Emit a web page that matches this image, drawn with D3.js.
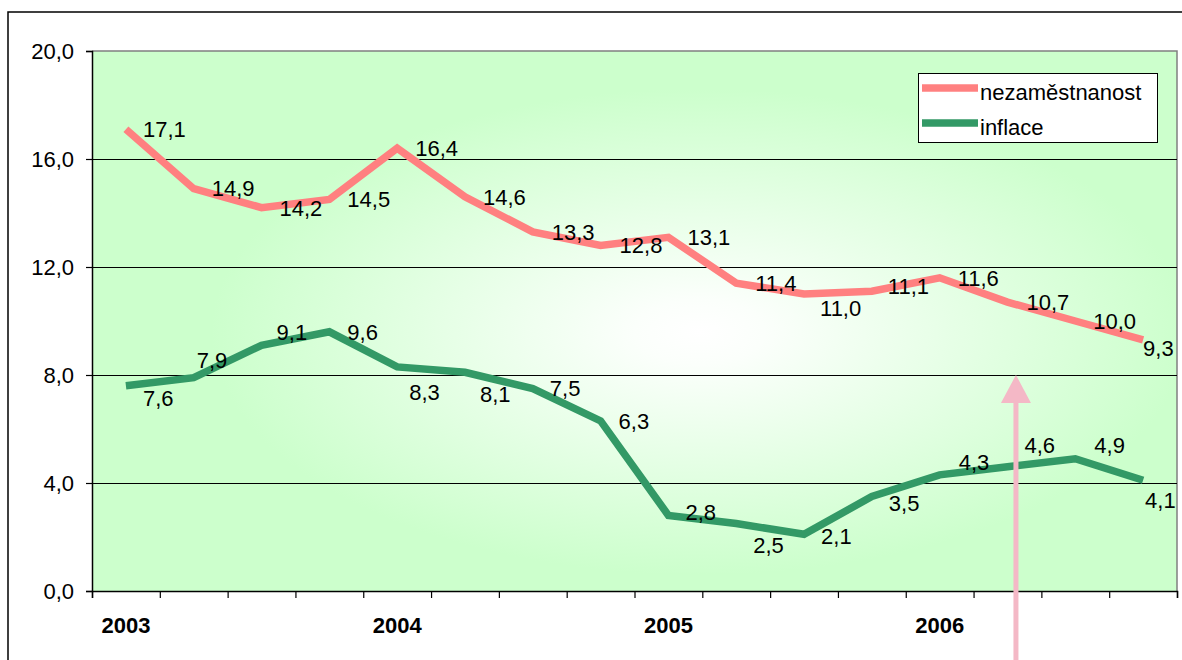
<!DOCTYPE html>
<html>
<head>
<meta charset="utf-8">
<script src="https://cdn.jsdelivr.net/npm/d3@7"></script>
<style>
  html, body { margin: 0; padding: 0; background: #fff; }
  svg { display: block; font-family: "Liberation Sans", Arial, sans-serif; }
</style>
</head>
<body>
<svg id="chart" width="1182" height="660"></svg>
<script>
// ---- data ----
const categories = ["2003","","","","2004","","","","2005","","","","2006","","",""];
const seriesNames = ["nezaměstnanost", "inflace"];
const unemployment = [17.1, 14.9, 14.2, 14.5, 16.4, 14.6, 13.3, 12.8, 13.1, 11.4, 11.0, 11.1, 11.6, 10.7, 10.0, 9.3];
const inflation    = [7.6, 7.9, 9.1, 9.6, 8.3, 8.1, 7.5, 6.3, 2.8, 2.5, 2.1, 3.5, 4.3, 4.6, 4.9, 4.1];
const yTicks = [0, 4, 8, 12, 16, 20];
const arrowIndex = 13.125;   // category position of the annotation arrow
const arrowValue = 8.0;      // value at the arrow tip

// label placement offsets (layout, px)
const redLabelDx   = [17,18,18,18,18,18,19,19,19,19,16,16,18,19,18,0];
const redLabelDy   = [0,-1,0,0,0,0,0,0,0,0,14,-5,0,0,0,8];
const greenLabelDx = [17,3,15,18,12,15,17,18,17,17,17,17,19,17,19,2];
const greenLabelDy = [12,-18,-13,0,25,22,0,0,-3,22,2,7,-13,-22,-14,20];

// ---- layout ----
const plot = { left: 92, right: 1177, top: 51, bottom: 591 };
const colors = { red: "#FF8080", green: "#339966", arrow: "#F4B8C6" };
const fontSize = 22;

const svg = d3.select("#chart");
const n = categories.length;
const x = d3.scaleLinear().domain([-0.5, n - 0.5]).range([plot.left, plot.right]);
const y = d3.scaleLinear().domain([0, 20]).range([plot.bottom, plot.top]);
const locale = d3.formatLocale({ decimal: ",", thousands: " ", grouping: [3], currency: ["", ""] });
const fmt = locale.format(".1f");

// outer chart border
svg.append("rect").attr("x", 8).attr("y", 12).attr("width", 1200).attr("height", 700)
  .attr("fill", "none").attr("stroke", "#000").attr("stroke-width", 1.5);

// background gradient
const defs = svg.append("defs");
const grad = defs.append("radialGradient").attr("id", "bg")
  .attr("cx", 0.56).attr("cy", 0.52).attr("r", 0.5).attr("fx", 0.56).attr("fy", 0.52);
grad.append("stop").attr("offset", "0").attr("stop-color", "#FFFFFF");
grad.append("stop").attr("offset", "0.12").attr("stop-color", "#FBFFFB");
grad.append("stop").attr("offset", "0.9").attr("stop-color", "#CCFFCC");
grad.append("stop").attr("offset", "1").attr("stop-color", "#CCFFCC");

svg.append("rect")
  .attr("x", plot.left).attr("y", plot.top)
  .attr("width", plot.right - plot.left).attr("height", plot.bottom - plot.top)
  .attr("fill", "url(#bg)");

// plot border (gray top/right)
svg.append("path")
  .attr("d", `M${plot.left},${plot.top}H${plot.right}V${plot.bottom}`)
  .attr("fill", "none").attr("stroke", "#808080").attr("stroke-width", 1.5);

// gridlines
svg.append("g").selectAll("line").data(yTicks.filter(t => t > 0 && t < 20)).join("line")
  .attr("x1", plot.left).attr("x2", plot.right)
  .attr("y1", d => Math.round(y(d)) + 0.5).attr("y2", d => Math.round(y(d)) + 0.5)
  .attr("stroke", "#000").attr("stroke-width", 1);

// y axis
const yAxis = svg.append("g").attr("transform", `translate(${plot.left},0)`)
  .call(d3.axisLeft(y).tickValues(yTicks).tickSize(6).tickPadding(12).tickFormat(fmt));
yAxis.select(".domain").attr("stroke", "#000").attr("stroke-width", 1.5);
yAxis.selectAll(".tick line").attr("stroke", "#000").attr("stroke-width", 1.2);
yAxis.selectAll(".tick text").attr("font-size", fontSize).attr("fill", "#000")
  .attr("font-family", "Liberation Sans, Arial, sans-serif");

// x axis (ticks at category boundaries)
const boundaries = d3.range(n + 1).map(i => i - 0.5);
const xAxis = svg.append("g").attr("transform", `translate(0,${plot.bottom})`)
  .call(d3.axisBottom(x).tickValues(boundaries).tickSize(7).tickFormat(""));
xAxis.select(".domain").attr("stroke", "#000").attr("stroke-width", 1.5);
xAxis.selectAll(".tick line").attr("stroke", "#000").attr("stroke-width", 1.2);

// year labels
svg.append("g").selectAll("text").data(categories.map((c, i) => ({ c, i })).filter(d => d.c)).join("text")
  .attr("x", d => x(d.i)).attr("y", 633)
  .attr("text-anchor", "middle").attr("font-size", fontSize).attr("font-weight", "bold")
  .attr("fill", "#000").text(d => d.c);

// lines
const line = d3.line().x((d, i) => x(i)).y(d => y(d));
const series = [
  { name: seriesNames[0], values: unemployment, color: colors.red, dx: redLabelDx, dy: redLabelDy },
  { name: seriesNames[1], values: inflation, color: colors.green, dx: greenLabelDx, dy: greenLabelDy }
];
series.forEach(s => {
  svg.append("path").datum(s.values).attr("d", line)
    .attr("fill", "none").attr("stroke", s.color).attr("stroke-width", 7.5)
    .attr("stroke-linejoin", "miter").attr("stroke-linecap", "butt");
});

// data labels
series.forEach(s => {
  svg.append("g").selectAll("text").data(s.values).join("text")
    .attr("x", (d, i) => x(i) + s.dx[i])
    .attr("y", (d, i) => y(d) + s.dy[i])
    .attr("dy", "0.36em")
    .attr("font-size", fontSize).attr("fill", "#000")
    .text(d => fmt(d));
});

// legend
const lg = svg.append("g");
lg.append("rect").attr("x", 918.5).attr("y", 73.5).attr("width", 239).attr("height", 69)
  .attr("fill", "#fff").attr("stroke", "#000").attr("stroke-width", 1);
series.forEach((s, i) => {
  const ly = 88 + i * 35;
  lg.append("line").attr("x1", 922).attr("x2", 978).attr("y1", ly).attr("y2", ly)
    .attr("stroke", s.color).attr("stroke-width", 7.5);
  lg.append("text").attr("x", 980).attr("y", ly + 4).attr("dy", "0.36em")
    .attr("font-size", fontSize).attr("fill", "#000").text(s.name);
});

// annotation arrow
const ax = x(arrowIndex), tipY = y(arrowValue);
svg.append("line").attr("x1", ax).attr("x2", ax).attr("y1", 670).attr("y2", tipY + 26)
  .attr("stroke", colors.arrow).attr("stroke-width", 5);
svg.append("path")
  .attr("d", `M${ax},${tipY}L${ax + 15},${tipY + 28}L${ax - 15},${tipY + 28}Z`)
  .attr("fill", colors.arrow);
</script>
</body>
</html>
